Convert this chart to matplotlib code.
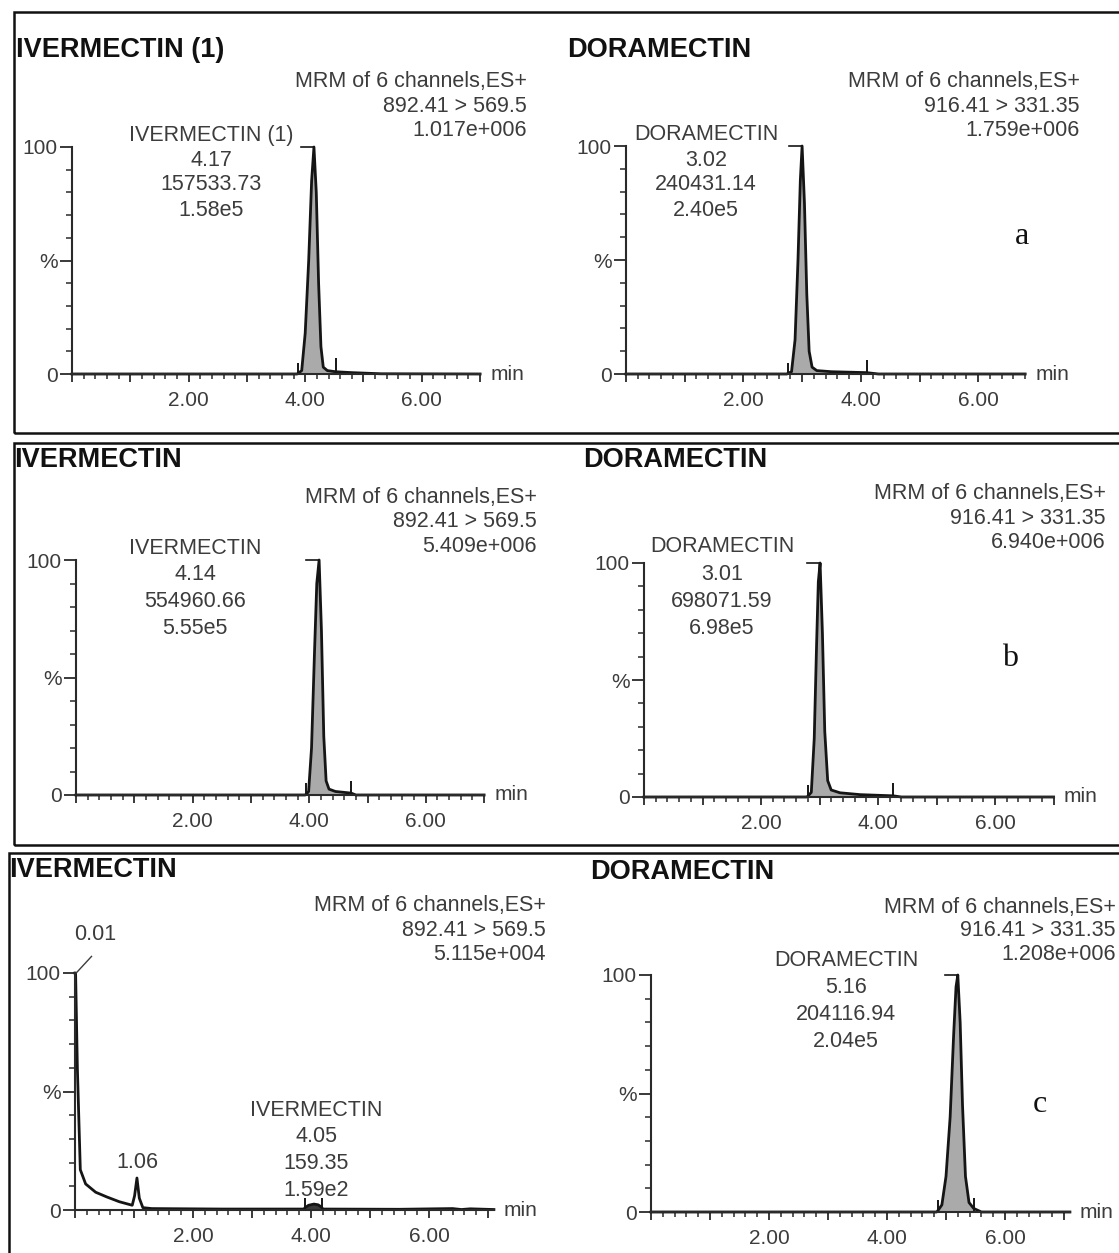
import numpy as np
import matplotlib
matplotlib.use('Agg')
from matplotlib import pyplot as plt
from matplotlib.patches import Rectangle
from matplotlib.ticker import MultipleLocator, FixedLocator, FuncFormatter

plt.rcParams['font.family'] = ['Liberation Sans', 'DejaVu Sans']

W, H = 1119, 1253

# retention time (min) and relative intensity (%)
a_ivm_t = np.array([0.0, 3.86, 3.88, 3.94, 4.00, 4.06, 4.11, 4.15, 4.19, 4.23, 4.27, 4.31, 4.38, 4.52, 4.8, 5.3, 7.0])
a_ivm_y = np.array([0.0, 0.0, 0.3, 1.5, 18, 50, 85, 100, 80, 40, 12, 3, 1.5, 1.0, 0.6, 0.1, 0.0])
a_dor_t = np.array([0.0, 2.74, 2.76, 2.82, 2.88, 2.93, 2.97, 3.00, 3.04, 3.08, 3.12, 3.17, 3.25, 3.5, 4.1, 4.3, 6.8])
a_dor_y = np.array([0.0, 0.0, 0.3, 1.0, 15, 50, 85, 100, 75, 35, 10, 3, 1.5, 1.0, 0.6, 0.0, 0.0])
b_ivm_t = np.array([0.0, 3.93, 3.95, 3.99, 4.04, 4.09, 4.13, 4.17, 4.21, 4.25, 4.29, 4.34, 4.45, 4.72, 4.8, 7.0])
b_ivm_y = np.array([0.0, 0.0, 0.3, 1.5, 20, 60, 90, 100, 70, 25, 6, 2.5, 1.5, 0.8, 0.0, 0.0])
b_dor_t = np.array([0.0, 2.78, 2.80, 2.86, 2.91, 2.95, 2.98, 3.01, 3.05, 3.09, 3.14, 3.20, 3.35, 3.7, 4.26, 4.4, 7.0])
b_dor_y = np.array([0.0, 0.0, 0.3, 2, 25, 65, 92, 100, 70, 28, 7, 3, 1.8, 1.0, 0.5, 0.0, 0.0])
c_ivm_t = np.array([0.0, 0.01, 0.04, 0.09, 0.18, 0.35, 0.54, 0.75, 0.97, 1.01, 1.05, 1.09, 1.15, 1.3, 2.5,
                    3.88, 3.90, 3.96, 4.05, 4.12, 4.18, 4.20, 5.5, 6.4, 6.55, 6.7, 7.1])
c_ivm_y = np.array([100, 100, 60, 17, 11, 7.5, 5.5, 3.5, 2.0, 6, 13.5, 5, 1.0, 0.6, 0.4,
                    0.4, 1.0, 2.0, 2.5, 2.2, 1.2, 0.4, 0.3, 0.6, 0.2, 0.5, 0.2])
c_dor_t = np.array([0.0, 4.84, 4.86, 4.93, 5.00, 5.07, 5.13, 5.17, 5.20, 5.24, 5.28, 5.33, 5.39, 5.47, 5.6, 7.1])
c_dor_y = np.array([0.0, 0.0, 0.5, 3, 15, 40, 75, 95, 100, 80, 45, 15, 4, 1.5, 0.0, 0.0])

# integration limits (min) and the heights of their drop marks (%)
a_ivm_int, a_ivm_mark = [3.88, 4.52], [5, 7]
a_dor_int, a_dor_mark = [2.76, 4.10], [5, 6]
b_ivm_int, b_ivm_mark = [3.95, 4.72], [5, 6]
b_dor_int, b_dor_mark = [2.80, 4.26], [5, 6]
c_ivm_int, c_ivm_mark = [3.90, 4.18], [5, 5]
c_dor_int, c_dor_mark = [4.86, 5.47], [5, 6]

titles = ['IVERMECTIN (1)', 'DORAMECTIN', 'IVERMECTIN', 'DORAMECTIN', 'IVERMECTIN', 'DORAMECTIN']
headers = [
    ['MRM of 6 channels,ES+', '892.41 > 569.5', '1.017e+006'],
    ['MRM of 6 channels,ES+', '916.41 > 331.35', '1.759e+006'],
    ['MRM of 6 channels,ES+', '892.41 > 569.5', '5.409e+006'],
    ['MRM of 6 channels,ES+', '916.41 > 331.35', '6.940e+006'],
    ['MRM of 6 channels,ES+', '892.41 > 569.5', '5.115e+004'],
    ['MRM of 6 channels,ES+', '916.41 > 331.35', '1.208e+006'],
]
peak_labels = [
    ['IVERMECTIN (1)', '4.17', '157533.73', '1.58e5'],
    ['DORAMECTIN', '3.02', '240431.14', '2.40e5'],
    ['IVERMECTIN', '4.14', '554960.66', '5.55e5'],
    ['DORAMECTIN', '3.01', '698071.59', '6.98e5'],
    ['IVERMECTIN', '4.05', '159.35', '1.59e2'],
    ['DORAMECTIN', '5.16', '204116.94', '2.04e5'],
]
panel_letters = ['a', 'b', 'c']

traces = [(a_ivm_t, a_ivm_y, a_ivm_int, a_ivm_mark), (a_dor_t, a_dor_y, a_dor_int, a_dor_mark),
          (b_ivm_t, b_ivm_y, b_ivm_int, b_ivm_mark), (b_dor_t, b_dor_y, b_dor_int, b_dor_mark),
          (c_ivm_t, c_ivm_y, c_ivm_int, c_ivm_mark), (c_dor_t, c_dor_y, c_dor_int, c_dor_mark)]

# layout in picture pixels: y-axis x, y of 0 %, y of 100 %, px per min, x max (min)
axes_px = [(72, 374, 147, 58.3, 7.0), (626, 374, 146, 58.7, 6.8),
           (76, 795, 560, 58.3, 7.0), (644, 797, 563, 58.5, 7.0),
           (75, 1210, 973, 59.0, 7.1), (651, 1212, 975, 59.0, 7.1)]
title_px = [(16, 50), (567, 50), (14, 460), (583, 460), (9, 870), (590, 872)]
header_px = [(527, 82), (1080, 82), (537, 498), (1106, 494), (546, 906), (1116, 907)]
label_px = [(211, 135, 25), (706, 135, 25), (195, 548, 26.7), (722, 547, 27.3), (316, 1110, 26.7), (846, 960, 27.3)]
letter_px = [(1022, 237), (1010, 658), (1040, 1105)]
boxes_px = [(14, 12, 433), (14, 443, 845), (9, 853, 1290)]

TXT = '#3c3c3c'
LINE = '#151515'

fig = plt.figure(figsize=(W / 100, H / 100), dpi=100)


def ftext(x, y, s, **kw):
    fig.text(x / W, 1 - y / H, s, **kw)


for x0, y0, y1 in boxes_px:
    fig.add_artist(Rectangle((x0 / W, 1 - y1 / H), (1130 - x0) / W, (y1 - y0) / H,
                             transform=fig.transFigure, fill=False, lw=1.8, ec='#111111'))

for i, (t, y, integ, mark) in enumerate(traces):
    ox, y0, y100, ppm, xmax = axes_px[i]
    ax = fig.add_axes([ox / W, 1 - y0 / H, xmax * ppm / W, (y0 - y100) / H])
    ax.patch.set_visible(False)
    ax.set_xlim(0, xmax)
    ax.set_ylim(0, 100)
    for s in ['top', 'right']:
        ax.spines[s].set_visible(False)
    for s in ['left', 'bottom']:
        ax.spines[s].set_color('#2a2a2a')
        ax.spines[s].set_linewidth(1.5)

    ax.xaxis.set_major_locator(MultipleLocator(1.0))
    ax.xaxis.set_minor_locator(MultipleLocator(0.2))
    ax.xaxis.set_major_formatter(FuncFormatter(lambda v, p: f'{v:.2f}' if round(v) in (2, 4, 6) else ''))
    ax.yaxis.set_major_locator(FixedLocator([0, 50, 100]))
    ax.yaxis.set_major_formatter(FuncFormatter(lambda v, p: {0: '0', 50: '%', 100: '100'}[int(round(v))]))
    ax.yaxis.set_minor_locator(MultipleLocator(10))
    ax.tick_params(axis='x', which='major', direction='out', length=6, width=1.3, pad=6,
                   labelsize=15, labelcolor=TXT, color='#2a2a2a')
    ax.tick_params(axis='x', which='minor', direction='out', length=3.5, width=1.1, color='#2a2a2a')
    ax.tick_params(axis='y', which='major', direction='out', length=9, width=1.3, pad=1.5,
                   labelsize=15, labelcolor=TXT, color='#2a2a2a')
    ax.tick_params(axis='y', which='minor', direction='out', length=4, width=1.1, color='#2a2a2a')

    inside = (t >= integ[0]) & (t <= integ[1])
    fill = '#3a3a3a' if i == 4 else '#aaaaaa'
    ax.fill_between(t, 0, y, where=inside, color=fill, lw=0, clip_on=False)
    ax.plot(t, y, color=LINE, lw=2.0, clip_on=False, solid_joinstyle='round')
    ax.vlines(integ, 0, mark, color=LINE, lw=1.4, clip_on=False)

    ax.annotate('min', xy=(1, 0), xycoords='axes fraction', xytext=(10, 0), textcoords='offset pixels',
                ha='left', va='center', fontsize=15, color=TXT, annotation_clip=False)

    apex = t[np.argmax(y)]
    if i == 4:
        # first point sits on the axis: slanted leader up to its label
        ax.plot([apex + 0.02, apex + 0.28], [100, 107], color=TXT, lw=1.0, clip_on=False)
        ftext(95, 935, '0.01', ha='center', va='center', fontsize=15.5, color=TXT)
        ftext(137, 1163, '1.06', ha='center', va='center', fontsize=15.5, color=TXT)
    else:
        ax.plot([apex - 0.22, apex], [100, 100], color=LINE, lw=1.2, clip_on=False)

    tx, ty = title_px[i]
    ftext(tx, ty, titles[i], ha='left', va='center', fontsize=19.5, fontweight='bold', color='#111111')
    hx, hy = header_px[i]
    for k, line in enumerate(headers[i]):
        ftext(hx, hy + 24 * k, line, ha='right', va='center', fontsize=15.5, color=TXT)
    lx, ly, dy = label_px[i]
    for k, line in enumerate(peak_labels[i]):
        ftext(lx, ly + dy * k, line, ha='center', va='center', fontsize=15.5, color=TXT)

for letter, (x, y) in zip(panel_letters, letter_px):
    ftext(x, y, letter, ha='center', va='center', fontsize=23, color='#111111', family='Liberation Serif')

fig.savefig('out.png', dpi=100)
